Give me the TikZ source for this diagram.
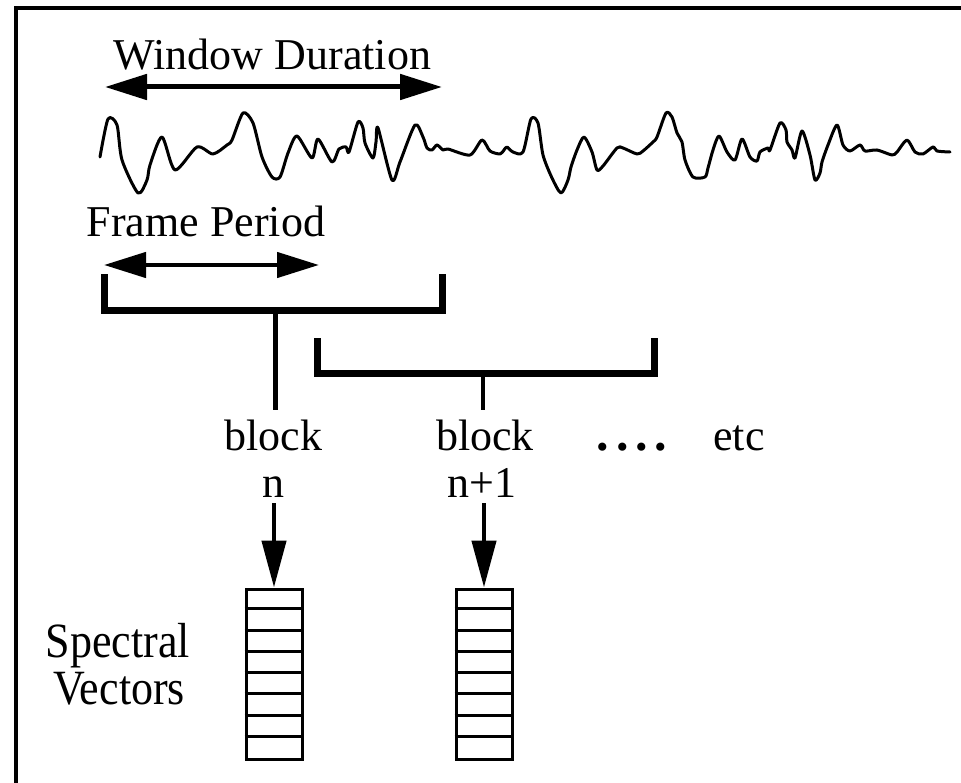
\documentclass[tikz,border=0pt]{standalone}
\usepackage{fontspec}
\setmainfont{Liberation Serif}
\usetikzlibrary{arrows.meta}
\tikzset{
  lbl/.style={font=\fontsize{44}{49}\selectfont, inner sep=0pt, anchor=base},
  brk/.style={line width=7pt, line join=miter},
  stemline/.style={line width=4.5pt},
  dimarrow/.style={line width=#1, {Triangle[length=42pt,width=25pt]}-{Triangle[length=42pt,width=25pt]}},
  downarrow/.style={line width=4.5pt, -{Triangle[length=47pt,width=24pt]}},
  vec/.style={draw, line width=3pt, minimum width=56pt, minimum height=170pt, anchor=north, inner sep=0pt},
  wave/.style={line width=3pt, line join=round, line cap=round}
}
\begin{document}
\begin{tikzpicture}[x=1pt, y=-1pt]
\useasboundingbox (0,0) rectangle (961,783);
% frame (top and left edges)
\draw[line width=3.5pt] (16,783) -- (16,8) -- (961,8);

% Window Duration
\node[lbl] (wd) at (272.5,70) {Window Duration};
\coordinate (wdl) at (105,87);
\coordinate (wdr) at (442,87);
\draw[dimarrow=5pt] (wdl) -- (wdr);

% waveform
\draw[wave] plot[smooth, tension=0.45] coordinates {
(100,157) (108,119) (117,125) (122,160) (138,193) (147,180) (150,165) (162,137) (175,170) (197,147) (213,154) (227,145) (232,140) (243,113) (253,123) (262,157) (272,177) (280,177) (288,153) (297,136) (312,158) (318,139) (332,162) (339,149) (346,147) (349,152) (358,122) (363,128) (365,143) (373,158) (376,142) (378,128) (392,180) (400,162) (415,125) (423,137) (427,148) (432,150) (437,145) (443,150) (448,149) (470,155) (482,140) (490,151) (500,154) (504,150) (507,147) (513,152) (523,152) (531,119) (538,123) (543,155) (552,178) (561,193) (568,180) (571,167) (577,150) (584,137) (592,152) (597,170) (603,166) (617,148) (623,148) (637,154) (643,151) (653,142) (657,137) (666,113) (672,117) (677,133) (682,142) (685,160) (693,177) (705,177) (708,168) (713,150) (719,136) (727,152) (735,160) (742,139) (750,157) (757,161) (760,152) (768,148) (770,150) (780,123) (786,130) (787,142) (792,150) (795,158) (802,131) (810,155) (815,180) (820,173) (822,162) (828,145) (837,125) (843,145) (850,151) (860,145) (865,151) (877,150) (892,155) (897,152) (907,140) (915,152) (923,154) (933,147) (937,151) (950,152)};

% Frame Period
\node[lbl] (fp) at (206,237) {Frame Period};
\coordinate (fpl) at (104,265);
\coordinate (fpr) at (319,265);
\draw[dimarrow=4.5pt] (fpl) -- (fpr);

% brackets
\coordinate (bk1) at (275.5,310.5);
\coordinate (bk2) at (483,374);
\draw[brk] (104,274.5) -- (104,310.5) -- (442,310.5) -- (442,274.5);
\draw[brk] (317,338.5) -- (317,374) -- (654.5,374) -- (654.5,338.5);

% block labels
\node[lbl] (b1) at (273.5,450) {block};
\node[lbl] (n1) at (273.5,497) {n};
\node[lbl] (b2) at (485,450) {block};
\node[lbl] (n2) at (482,497) {n+1};
\node[lbl, font=\fontsize{50}{50}\selectfont\bfseries] (dots) at (632,450) {.\kern6.8pt.\kern6.8pt.\kern6.8pt.};
\node[lbl] (etc) at (739,450) {etc};

\draw[stemline, shorten >=9pt] (bk1) -- (bk1 |- b1.north);
\draw[stemline, shorten >=9pt] (bk2) -- (bk2 |- b2.north);

% spectral vectors
\node[vec] (v1) at (274,587.5) {};
\node[vec] (v2) at (484,587.5) {};
\foreach \v in {v1,v2}{
  \foreach \k in {1,...,7}{
    \draw[line width=3pt] ([yshift=-\k*21.25pt]\v.north west) -- ([yshift=-\k*21.25pt]\v.north east);
  }
}
\draw[downarrow, shorten <=6pt] (v1.north |- n1.south) -- (v1.north);
\draw[downarrow, shorten <=6pt] (v2.north |- n2.south) -- (v2.north);

\node[lbl] (sp) at (118,657) {\scalebox{1}[1.12]{Spectral}};
\node[lbl] (sv) at (119,704) {\scalebox{1}[1.12]{Vectors}};
\end{tikzpicture}
\end{document}
